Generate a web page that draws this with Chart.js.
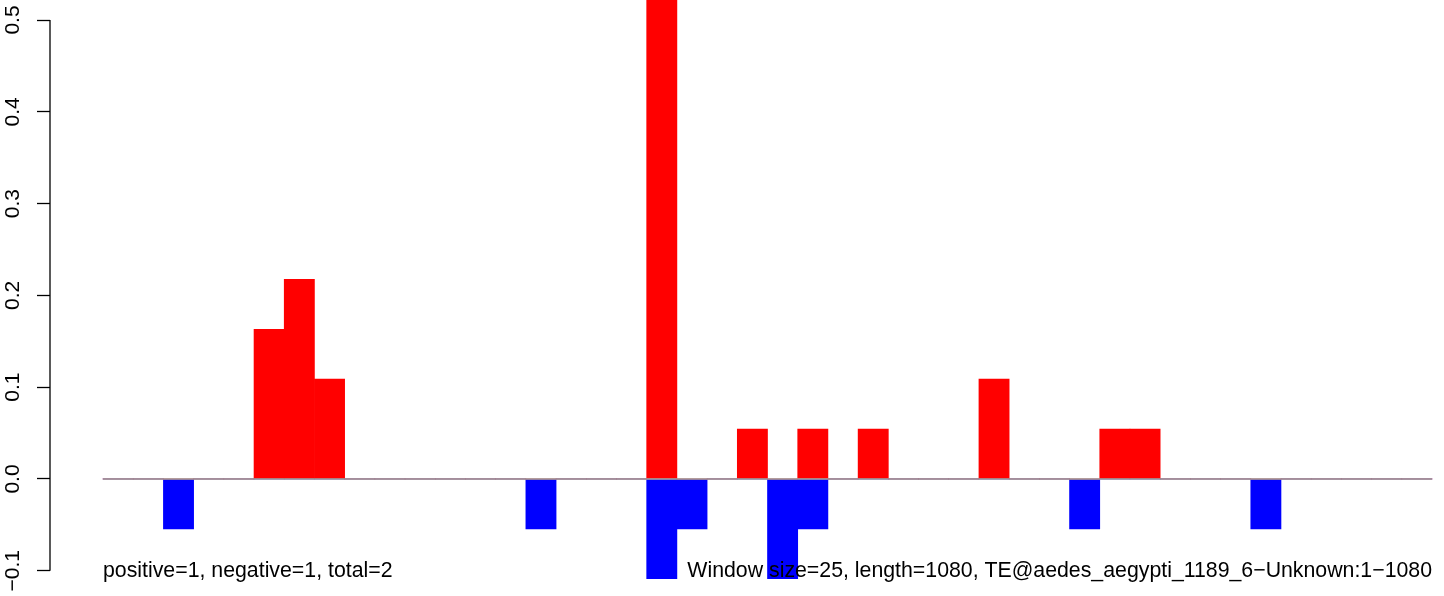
<!DOCTYPE html>
<html>
<head>
<meta charset="utf-8">
<script src="https://cdn.jsdelivr.net/npm/chart.js@4.4.1/dist/chart.umd.min.js"></script>
<style>
    html, body { margin: 0; padding: 0; background: #fff; }
    #wrap { width: 1444px; height: 596px; position: relative; }
</style>
</head>
<body>
<div id="wrap"><canvas id="windowChart"></canvas></div>
<script>
// window index (0-based), 44 windows of 25 bp over 1080 bp
var windowIdx = [];
for (let i = 0; i < 44; i++) windowIdx.push(i + 0.5);

// positive strand values per window (red)
var posValues = [
    0, 0, 0, 0, 0, 0.163, 0.2174, 0.1087, 0, 0,
    0, 0, 0, 0, 0, 0, 0, 0, 0.6, 0,
    0, 0.0543, 0, 0.0543, 0, 0.0543, 0, 0, 0, 0.1087,
    0, 0, 0, 0.0543, 0.0543, 0, 0, 0, 0, 0,
    0, 0, 0, 0
];

// negative strand values per window (blue)
var negValues = [
    0, 0, -0.0543, 0, 0, 0, 0, 0, 0, 0,
    0, 0, 0, 0, -0.0543, 0, 0, 0, -0.1087, -0.0543,
    0, 0, -0.1087, -0.0543, 0, 0, 0, 0, 0, 0,
    0, 0, -0.0543, 0, 0, 0, 0, 0, -0.0543, 0,
    0, 0, 0, 0
];

var yTickValues = [-0.1, 0, 0.1, 0.2, 0.3, 0.4, 0.5];
var yTickLabels = ['\u22120.1', '0.0', '0.1', '0.2', '0.3', '0.4', '0.5'];

var leftNote = 'positive=1, negative=1, total=2';
var rightNote = 'Window size=25, length=1080, TE@aedes_aegypti_1189_6\u2212Unknown:1\u22121080';

Chart.defaults.font.family = '"Liberation Sans", Arial, Helvetica, sans-serif';
Chart.defaults.font.size = 21;
Chart.defaults.color = '#000';

// zero line, y axis line and the two notes, R style
var overlayPlugin = {
    id: 'overlay',
    afterDatasetsDraw(chart) {
        const ctx = chart.ctx;
        const x = chart.scales.x;
        const y = chart.scales.y;
        ctx.save();

        ctx.strokeStyle = '#9a9a9a';
        ctx.lineWidth = 1.5;
        ctx.beginPath();
        ctx.moveTo(x.getPixelForValue(0), y.getPixelForValue(0));
        ctx.lineTo(x.getPixelForValue(44), y.getPixelForValue(0));
        ctx.stroke();

        ctx.strokeStyle = '#000';
        ctx.lineWidth = 1.3;
        ctx.beginPath();
        ctx.moveTo(chart.chartArea.left, y.getPixelForValue(-0.1));
        ctx.lineTo(chart.chartArea.left, y.getPixelForValue(0.5));
        ctx.stroke();

        ctx.fillStyle = '#000';
        ctx.font = '21.3px "Liberation Sans", Arial, sans-serif';
        ctx.textBaseline = 'middle';
        ctx.textAlign = 'left';
        ctx.fillText(leftNote, x.getPixelForValue(0), y.getPixelForValue(-0.1));
        ctx.textAlign = 'right';
        ctx.fillText(rightNote, x.getPixelForValue(44), y.getPixelForValue(-0.1));
        ctx.restore();
    }
};

const ctx = document.getElementById('windowChart').getContext('2d');
window.windowChart = new Chart(ctx, {
    type: 'bar',
    data: {
        datasets: [{
            label: 'positive',
            data: windowIdx.map((xv, i) => ({ x: xv, y: posValues[i] })),
            backgroundColor: '#ff0000',
            borderWidth: 0,
            grouped: false,
            categoryPercentage: 1,
            barPercentage: 1
        }, {
            label: 'negative',
            data: windowIdx.map((xv, i) => ({ x: xv, y: negValues[i] })),
            backgroundColor: '#0000ff',
            borderWidth: 0,
            grouped: false,
            categoryPercentage: 1,
            barPercentage: 1
        }]
    },
    options: {
        responsive: true,
        maintainAspectRatio: false,
        animation: false,
        layout: { padding: 0 },
        plugins: {
            legend: { display: false },
            tooltip: { enabled: false }
        },
        scales: {
            x: {
                type: 'linear',
                display: false,
                offset: false,
                min: -1.755,
                max: 44.397
            },
            y: {
                min: -0.1275,
                max: 0.5218,
                border: { display: false },
                grid: {
                    drawOnChartArea: false,
                    drawTicks: true,
                    tickLength: 13,
                    tickColor: '#000',
                    tickWidth: 1.3
                },
                afterBuildTicks: (scale) => {
                    scale.ticks = yTickValues.map(v => ({ value: v }));
                },
                afterFit: (scale) => {
                    // fixed axis width, no extra room for the end labels
                    scale.width = 50;
                    scale.paddingTop = 0;
                    scale.paddingBottom = 0;
                },
                ticks: {
                    autoSkip: false,
                    minRotation: 90,
                    maxRotation: 90,
                    crossAlign: 'center',
                    padding: 3,
                    callback: (value, index) => yTickLabels[index]
                }
            }
        }
    },
    plugins: [overlayPlugin]
});
</script>
</body>
</html>
